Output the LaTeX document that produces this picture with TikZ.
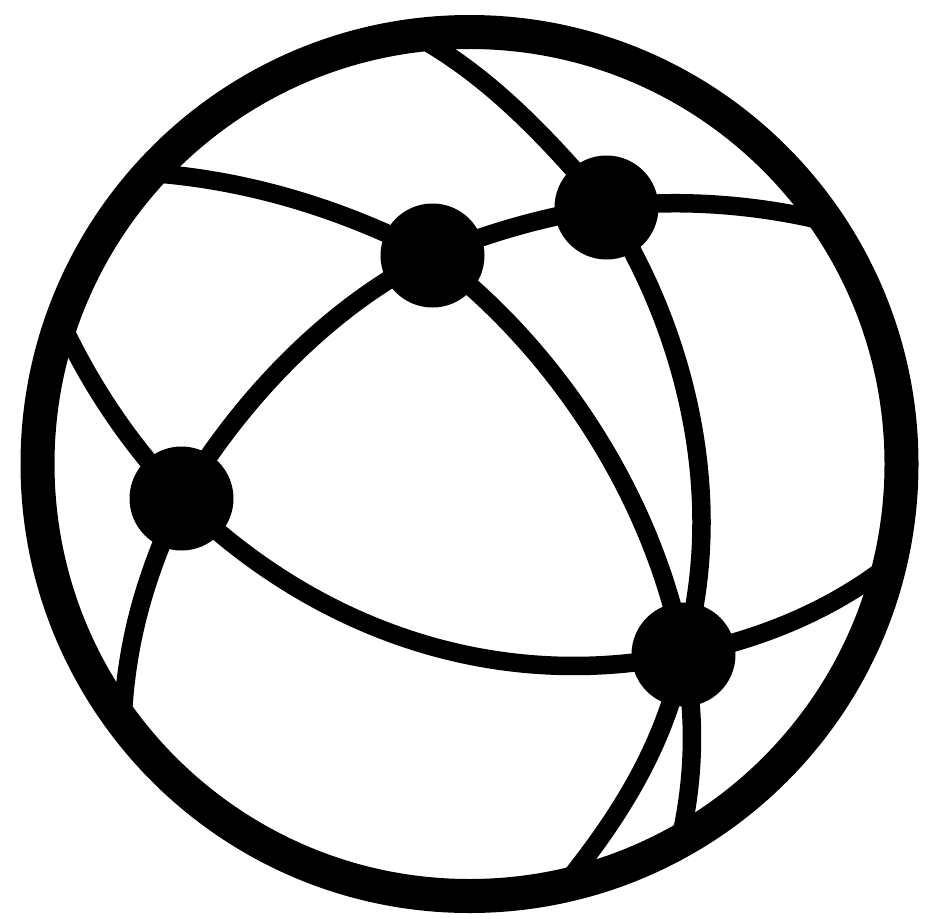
\documentclass[tikz,border=0pt]{standalone}
\begin{document}
\begin{tikzpicture}[x=1pt,y=-1pt,
  hub/.style={circle,fill=black,draw=none,minimum size=104pt,inner sep=0pt},
  link/.style={draw=black,line width=18.5pt,line cap=butt},
  ring/.style={circle,draw=black,line width=34pt,fill=white,minimum size=864pt,inner sep=0pt}]
\useasboundingbox (0,0) rectangle (944,918);
\fill[white] (0,0) rectangle (944,918);
\node[ring] (globe) at (469.5,464) {};
\node[hub] (a) at (432.5,255.5) {};
\node[hub] (b) at (606.5,207.5) {};
\node[hub] (c) at (181.5,498.5) {};
\node[hub] (d) at (683.5,654.5) {};
\coordinate (t1) at (420,38);
\coordinate (t2) at (150,173);
\coordinate (t3) at (828,222);
\coordinate (t4) at (60,320);
\coordinate (t5) at (123,712);
\coordinate (t6) at (885,568);
\coordinate (t7) at (570,878);
\coordinate (t8) at (682,832);
\path[link] (t1) .. controls (480,72) and (535,122) .. (b.center);
\path[link] (t2) .. controls (250,180) and (345,210) .. (a.center);
\path[link] (a.center) .. controls (490,232) and (550,215) .. (b.center);
\path[link] (b.center) .. controls (680,198) and (760,205) .. (t3);
\path[link] (b.center) .. controls (680,320) and (730,490) .. (d.center);
\path[link] (a.center) .. controls (540,335) and (650,480) .. (d.center);
\path[link] (a.center) .. controls (330,305) and (240,400) .. (c.center);
\path[link] (t4) .. controls (90,385) and (130,445) .. (c.center);
\path[link] (c.center) .. controls (150,565) and (128,630) .. (t5);
\path[link] (c.center) .. controls (310,625) and (490,695) .. (d.center);
\path[link] (d.center) .. controls (760,640) and (830,610) .. (t6);
\path[link] (d.center) .. controls (665,745) and (620,815) .. (t7);
\path[link] (d.center) .. controls (695,710) and (695,770) .. (t8);
\end{tikzpicture}
\end{document}
